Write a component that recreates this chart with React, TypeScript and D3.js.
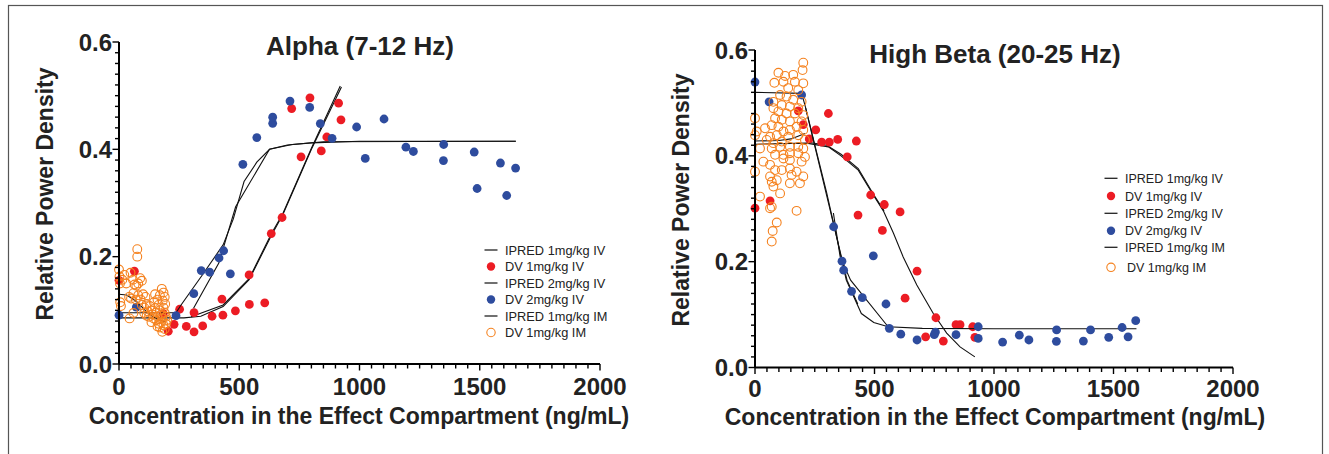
import React from "react";
import * as d3 from "d3";

type P = [number, number];

// ---------- axis / text content ----------
const xMajorTicks = [0, 500, 1000, 1500, 2000];
const yMajorTicks = [0, 0.2, 0.4, 0.6];
const xMinorStep = 50;
const yMinorStep = 0.02;
const xDomain: P = [0, 2000];
const yDomain: P = [0, 0.6];
const xAxisTitle = "Concentration in the Effect Compartment (ng/mL)";
const yAxisTitle = "Relative Power Density";
const legendLabels = [
  "IPRED 1mg/kg IV",
  "DV 1mg/kg IV",
  "IPRED 2mg/kg IV",
  "DV 2mg/kg IV",
  "IPRED 1mg/kg IM",
  "DV 1mg/kg IM",
];
const alphaTitle = "Alpha (7-12 Hz)";
const betaTitle = "High Beta (20-25 Hz)";

// ---------- Alpha data ----------
const alphaDV1IV: P[] = [
  [0, 0.156], [64, 0.173], [184, 0.094], [205, 0.061], [229, 0.074], [252, 0.102],
  [280, 0.07], [312, 0.06], [312, 0.0956], [348, 0.071], [387, 0.089], [428, 0.121],
  [432, 0.091], [484, 0.099], [541, 0.166], [542, 0.111], [606, 0.114], [633, 0.243],
  [678, 0.273], [718, 0.476], [757, 0.386], [794, 0.496], [841, 0.397], [864, 0.423],
  [913, 0.486], [923, 0.455],
];
const alphaDV2IV: P[] = [
  [0, 0.091], [72, 0.106], [237, 0.09], [311, 0.131], [342, 0.174], [377, 0.171],
  [416, 0.1975], [435, 0.211], [463, 0.168], [515, 0.372], [573, 0.422], [639, 0.4485],
  [639, 0.46], [711, 0.49], [793, 0.478], [837, 0.448], [886, 0.4205], [988, 0.4416],
  [1024, 0.383], [1102, 0.4565], [1193, 0.404], [1224, 0.396], [1350, 0.409], [1349, 0.379],
  [1477, 0.395], [1489, 0.327], [1586, 0.3745], [1612, 0.314], [1649, 0.365],
];
const alphaDV1IM: P[] = [
  [0, 0.176], [2, 0.163], [4, 0.15], [14, 0.157], [22, 0.166], [30, 0.15], [48, 0.17],
  [58, 0.157], [65, 0.148], [72, 0.146], [80, 0.15], [88, 0.16], [95, 0.155], [76, 0.214],
  [76, 0.2], [5, 0.115], [8, 0.108], [42, 0.125], [50, 0.122], [60, 0.132], [70, 0.12],
  [80, 0.128], [90, 0.12], [100, 0.13], [110, 0.125], [44, 0.085], [60, 0.095],
  [95, 0.11], [105, 0.105], [115, 0.112], [120, 0.098], [128, 0.108], [135, 0.1],
  [140, 0.092], [145, 0.115], [150, 0.104], [155, 0.096], [160, 0.088], [165, 0.11],
  [170, 0.1], [175, 0.092], [180, 0.085], [185, 0.105], [190, 0.095], [195, 0.088],
  [175, 0.078], [165, 0.075], [155, 0.082], [145, 0.085], [135, 0.078], [125, 0.088],
  [115, 0.09], [105, 0.095], [185, 0.072], [190, 0.065], [180, 0.06], [195, 0.075],
  [200, 0.082], [170, 0.068], [160, 0.07], [178, 0.14], [185, 0.133], [190, 0.125],
  [182, 0.118], [192, 0.112], [170, 0.128], [160, 0.12], [150, 0.13],
];
const alphaPred1IVa: P[] = [
  [0, 0.086], [270, 0.086], [340, 0.089], [433, 0.107], [541, 0.157], [634, 0.24],
  [681, 0.278], [800, 0.4], [925, 0.516],
];
const alphaPred1IVb: P[] = [
  [300, 0.088], [433, 0.11], [541, 0.159], [634, 0.243], [681, 0.28], [800, 0.402], [920, 0.518],
];
const alphaPred2IVa: P[] = [
  [0, 0.0956], [237, 0.0956], [258, 0.11], [345, 0.165], [433, 0.222], [475, 0.27],
  [520, 0.34], [573, 0.376], [626, 0.4], [700, 0.408], [800, 0.412], [1000, 0.415], [1650, 0.415],
];
const alphaPred2IVb: P[] = [
  [310, 0.104], [415, 0.188], [485, 0.293], [626, 0.4], [720, 0.409], [850, 0.414], [1650, 0.415],
];
const alphaPred1IM: P[] = [
  [0, 0.13], [32, 0.1286], [74, 0.116], [115, 0.097], [150, 0.085], [192, 0.079],
];

// ---------- High Beta data ----------
const betaDV1IV: P[] = [
  [0, 0.301], [63, 0.315], [181, 0.485], [202, 0.459], [227, 0.432], [254, 0.449],
  [279, 0.426], [307, 0.48], [311, 0.426], [346, 0.431], [386, 0.398], [424, 0.428],
  [431, 0.288], [484, 0.326], [533, 0.259], [541, 0.308], [607, 0.294], [628, 0.131],
  [678, 0.182], [714, 0.058], [757, 0.094], [788, 0.05], [841, 0.081], [858, 0.081],
  [911, 0.077], [920, 0.057],
];
const betaDV2IV: P[] = [
  [0, 0.5395], [59, 0.502], [195, 0.515], [329, 0.266], [364, 0.201], [371, 0.184],
  [404, 0.144], [449, 0.132], [495, 0.211], [548, 0.12], [562, 0.074], [610, 0.063],
  [678, 0.052], [750, 0.062], [755, 0.067], [841, 0.062], [934, 0.077], [934, 0.055],
  [1036, 0.048], [1106, 0.061], [1146, 0.052], [1262, 0.071], [1261, 0.0495], [1374, 0.05],
  [1404, 0.071], [1480, 0.057], [1536, 0.0756], [1561, 0.058], [1593, 0.0885],
];
const betaDV1IM: P[] = [
  [202, 0.576], [199, 0.562], [160, 0.553], [126, 0.551], [98, 0.557], [81, 0.538],
  [119, 0.54], [167, 0.54], [202, 0.537], [139, 0.528], [181, 0.524], [105, 0.515],
  [77, 0.502], [132, 0.512], [160, 0.506], [195, 0.502], [112, 0.496], [146, 0.493],
  [181, 0.49], [77, 0.49], [98, 0.484], [132, 0.48], [167, 0.48], [202, 0.477],
  [84, 0.471], [0, 0.471], [112, 0.468], [146, 0.465], [195, 0.465], [70, 0.458],
  [98, 0.455], [174, 0.455], [42, 0.452], [7, 0.446], [0, 0.439], [63, 0.436],
  [119, 0.446], [146, 0.449], [202, 0.449], [91, 0.439], [139, 0.436], [181, 0.439],
  [209, 0.43], [49, 0.43], [77, 0.424], [112, 0.427], [21, 0.414], [70, 0.414],
  [105, 0.417], [146, 0.417], [181, 0.417], [202, 0.414], [84, 0.402], [119, 0.402],
  [146, 0.405], [181, 0.405], [209, 0.398], [119, 0.395], [146, 0.392], [195, 0.389],
  [35, 0.389], [63, 0.383], [84, 0.373], [112, 0.373], [146, 0.376], [174, 0.37],
  [202, 0.361], [0, 0.37], [63, 0.361], [70, 0.351], [77, 0.342], [91, 0.354],
  [153, 0.364], [188, 0.348], [146, 0.348], [105, 0.329], [21, 0.323], [70, 0.304],
  [63, 0.301], [174, 0.296], [91, 0.274], [74, 0.258], [70, 0.238],
];
const betaPred1IVa: P[] = [
  [0, 0.422], [216, 0.424], [307, 0.417], [360, 0.4], [432, 0.373], [495, 0.326],
  [537, 0.296], [579, 0.254], [620, 0.209], [677, 0.156], [746, 0.102], [802, 0.065],
  [858, 0.039], [920, 0.02],
];
const betaPred1IVb: P[] = [
  [216, 0.426], [300, 0.42], [360, 0.403], [432, 0.376], [495, 0.328], [540, 0.296],
];
const betaPred2IVa: P[] = [
  [0, 0.52], [195, 0.518], [209, 0.496], [300, 0.33], [382, 0.165], [445, 0.102],
  [497, 0.085], [557, 0.077], [700, 0.074], [1000, 0.0733], [1596, 0.0733],
];
const betaPred2IVb: P[] = [
  [212, 0.49], [385, 0.165], [430, 0.12],
];
const betaPred2IVc: P[] = [
  [328, 0.292], [356, 0.21], [400, 0.165], [557, 0.077],
];
const betaPred1IM: P[] = [
  [0, 0.428], [100, 0.429], [150, 0.432], [180, 0.437], [209, 0.442],
];

// ---------- styling ----------
const RED = "#EC1C24";
const BLUE = "#2E4C9E";
const ORANGE = "#F5821F";
const FONT = "'Liberation Sans', Arial, Helvetica, sans-serif";

type Group = { fits: P[][]; pts: P[]; kind: "red" | "blue" | "open" };

type PanelProps = {
  x0: number; x1: number; y0: number; y1: number;
  title: string; titleX: number; titleY: number;
  xTitleX: number; xTitleY: number;
  yTitleX: number; yTitleY: number;
  tickLabelDy: number;
  groups: Group[];
  legX: number; legTextX: number[]; legYs: number[]; legFont: number;
};

function Panel(p: PanelProps) {
  const x = d3.scaleLinear().domain(xDomain).range([p.x0, p.x1]);
  const y = d3.scaleLinear().domain(yDomain).range([p.y0, p.y1]);
  const line = d3.line<P>().x((d) => x(d[0])).y((d) => y(d[1]));
  const xMinor = d3.range(xDomain[0], xDomain[1] + 1e-9, xMinorStep);
  const yMinor = d3.range(0, Math.round((yDomain[1] - yDomain[0]) / yMinorStep) + 1).map((i) => i * yMinorStep);

  const mark = (kind: string, cx: number, cy: number, key: any, r = 4.4) =>
    kind === "open" ? (
      <circle key={key} cx={cx} cy={cy} r={r} fill="none" stroke={ORANGE} strokeWidth={1.1} />
    ) : (
      <circle key={key} cx={cx} cy={cy} r={r} fill={kind === "red" ? RED : BLUE} />
    );

  return (
    <g fontFamily={FONT}>
      {p.groups.map((g, gi) => (
        <g key={gi}>
          {g.fits.map((f, fi) => (
            <path key={fi} d={line(f) || ""} fill="none" stroke="#111" strokeWidth={1.1} />
          ))}
          {g.pts.map((d, i) => mark(g.kind, x(d[0]), y(d[1]), i))}
        </g>
      ))}
      <line x1={p.x0} x2={p.x1} y1={p.y0} y2={p.y0} stroke="#000" strokeWidth={2} />
      <line x1={p.x0} x2={p.x0} y1={p.y0} y2={p.y1} stroke="#000" strokeWidth={2} />
      {xMinor.map((v) => {
        const major = xMajorTicks.includes(v);
        return (
          <line key={"xm" + v} x1={x(v)} x2={x(v)} y1={p.y0} y2={p.y0 + (major ? 6.5 : 4.5)} stroke="#000" strokeWidth={1.4} />
        );
      })}
      {yMinor.map((v, i) => {
        const major = i % 10 === 0;
        return (
          <line key={"ym" + i} x1={p.x0} x2={p.x0 - (major ? 6.5 : 4)} y1={y(v)} y2={y(v)} stroke="#000" strokeWidth={1.4} />
        );
      })}
      {xMajorTicks.map((v) => (
        <text key={"xl" + v} x={x(v)} y={p.y0 + p.tickLabelDy} textAnchor="middle" fontSize={24} fontWeight="bold" fill="#222">
          {v}
        </text>
      ))}
      {yMajorTicks.map((v) => (
        <text key={"yl" + v} x={p.x0 - 7} y={y(v) + 8.5} textAnchor="end" fontSize={24} fontWeight="bold" fill="#222">
          {v.toFixed(1)}
        </text>
      ))}
      <text x={p.titleX} y={p.titleY} textAnchor="middle" fontSize={26} fontWeight="bold" fill="#222">
        {p.title}
      </text>
      <text x={p.xTitleX} y={p.xTitleY} textAnchor="middle" fontSize={23} fontWeight="bold" fill="#222">
        {xAxisTitle}
      </text>
      <text
        transform={`translate(${p.yTitleX},${p.yTitleY}) rotate(-90)`}
        textAnchor="middle"
        fontSize={23}
        fontWeight="bold"
        fill="#222"
      >
        {yAxisTitle}
      </text>
      {legendLabels.map((lab, i) => {
        const yy = p.legYs[i];
        const isLine = i % 2 === 0;
        const kind = i === 1 ? "red" : i === 3 ? "blue" : "open";
        return (
          <g key={"lg" + i}>
            {isLine ? (
              <line x1={p.legX - 6.5} x2={p.legX + 6.5} y1={yy} y2={yy} stroke="#222" strokeWidth={1.3} />
            ) : (
              mark(kind, p.legX, yy, "s", 4.2)
            )}
            <text x={p.legTextX[i]} y={yy + 4.5} fontSize={p.legFont} fill="#222">
              {lab}
            </text>
          </g>
        );
      })}
    </g>
  );
}

export default function App() {
  const alphaGroups: Group[] = [
    { fits: [alphaPred1IVa, alphaPred1IVb], pts: alphaDV1IV, kind: "red" },
    { fits: [alphaPred2IVa, alphaPred2IVb], pts: alphaDV2IV, kind: "blue" },
    { fits: [alphaPred1IM], pts: alphaDV1IM, kind: "open" },
  ];
  const betaGroups: Group[] = [
    { fits: [betaPred1IVa, betaPred1IVb], pts: betaDV1IV, kind: "red" },
    { fits: [betaPred2IVa, betaPred2IVb, betaPred2IVc], pts: betaDV2IV, kind: "blue" },
    { fits: [betaPred1IM], pts: betaDV1IM, kind: "open" },
  ];
  return (
    <svg
      width={1329}
      height={454}
      style={{ position: "absolute", left: 0, top: 0, background: "#fff" }}
    >
      <rect x={8.5} y={5.5} width={1314} height={460} fill="none" stroke="#555" strokeWidth={1.2} />
      <Panel
        x0={119} x1={600} y0={364} y1={42}
        title={alphaTitle} titleX={360} titleY={55}
        xTitleX={359} xTitleY={424}
        yTitleX={53} yTitleY={194}
        tickLabelDy={31}
        groups={alphaGroups}
        legX={491} legTextX={[505, 505, 505, 505, 505, 505]}
        legYs={[250, 266.5, 283, 299.5, 316, 332.5]} legFont={12.8}
      />
      <Panel
        x0={755} x1={1233} y0={367.5} y1={50}
        title={betaTitle} titleX={995} titleY={63}
        xTitleX={995} xTitleY={425}
        yTitleX={689} yTitleY={200}
        tickLabelDy={29.5}
        groups={betaGroups}
        legX={1111} legTextX={[1125, 1125, 1125, 1125, 1125, 1127]}
        legYs={[178.3, 196, 213.3, 230.7, 247.3, 267.3]} legFont={12.5}
      />
    </svg>
  );
}
